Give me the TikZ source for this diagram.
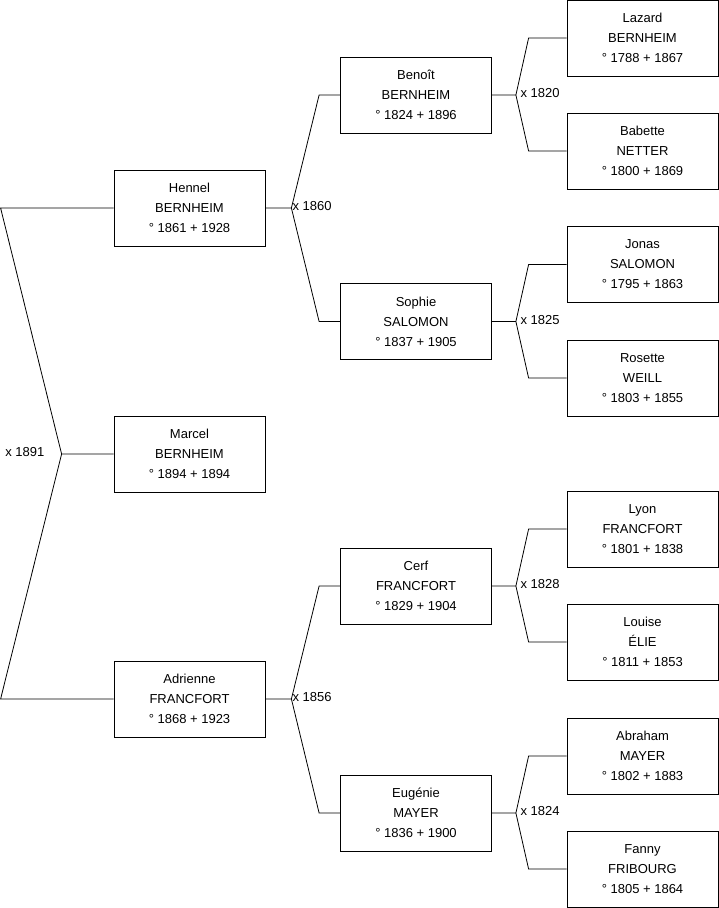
\documentclass[tikz,border=0pt]{standalone}
\usepackage{fontspec}
\setmainfont{Liberation Sans}
\usetikzlibrary{positioning}
\tikzset{pers/.style={draw,line width=.8pt,minimum width=151pt,minimum height=76pt,align=center,inner sep=0pt,font=\fontsize{13}{20}\selectfont}}
\tikzset{wed/.style={inner sep=1pt,font=\fontsize{13}{16}\selectfont}}
\tikzset{link/.style={line width=.8pt}}

\begin{document}
\begin{tikzpicture}[x=1pt,y=-1pt]
\useasboundingbox(0,0)rectangle(719,908);
% generation 1
\node[pers](hennel)at(189.5,208){Hennel\\BERNHEIM\\° 1861 + 1928};
\node[pers](marcel)at(189.5,454){Marcel\\BERNHEIM\\° 1894 + 1894};
\node[pers](adrienne)at(189.5,699){Adrienne\\FRANCFORT\\° 1868 + 1923};
% generation 2
\node[pers](benoit)at(416,95){Benoît\\BERNHEIM\\° 1824 + 1896};
\node[pers](sophie)at(416,321.5){Sophie\\SALOMON\\° 1837 + 1905};
\node[pers](cerf)at(416,586){Cerf\\FRANCFORT\\° 1829 + 1904};
\node[pers](eugenie)at(416,813){Eugénie\\MAYER\\° 1836 + 1900};
% generation 3
\node[pers](lazard)at(642.5,38){Lazard\\BERNHEIM\\° 1788 + 1867};
\node[pers](babette)at(642.5,151){Babette\\NETTER\\° 1800 + 1869};
\node[pers](jonas)at(642.5,264.5){Jonas\\SALOMON\\° 1795 + 1863};
\node[pers](rosette)at(642.5,378){Rosette\\WEILL\\° 1803 + 1855};
\node[pers](lyon)at(642.5,529){Lyon\\FRANCFORT\\° 1801 + 1838};
\node[pers](louise)at(642.5,642){Louise\\ÉLIE\\° 1811 + 1853};
\node[pers](abraham)at(642.5,756){Abraham\\MAYER\\° 1802 + 1883};
\node[pers](fanny)at(642.5,869){Fanny\\FRIBOURG\\° 1805 + 1864};
% couples
\foreach \c/\f/\m/\y/\d/\s/\t in {hennel/benoit/sophie/1860/26/21/0,adrienne/cerf/eugenie/1856/26/21/0,benoit/lazard/babette/1820/24/38/3.5,sophie/jonas/rosette/1825/24/38/3.5,cerf/lyon/louise/1828/24/38/3.5,eugenie/abraham/fanny/1824/24/38/3.5}{
\coordinate(w\y)at([xshift=\d pt]\c.east);
\draw[link](\c.east)--(w\y)--([xshift=-\s pt]\f.west)--(\f.west)(w\y)--([xshift=-\s pt]\m.west)--(\m.west);
\node[wed,anchor=west](l\y)at([xshift=\t pt,yshift=1.5pt]w\y){x \y};}
\coordinate(w1891)at([xshift=-52pt]marcel.west);
\draw[link](marcel.west)--(w1891)--([xshift=-113pt]hennel.west)--(hennel.west)(w1891)--([xshift=-113pt]adrienne.west)--(adrienne.west);
\node[wed,anchor=east](l1891)at([xshift=-16pt,yshift=2pt]w1891){x 1891};
\end{tikzpicture}
\end{document}
